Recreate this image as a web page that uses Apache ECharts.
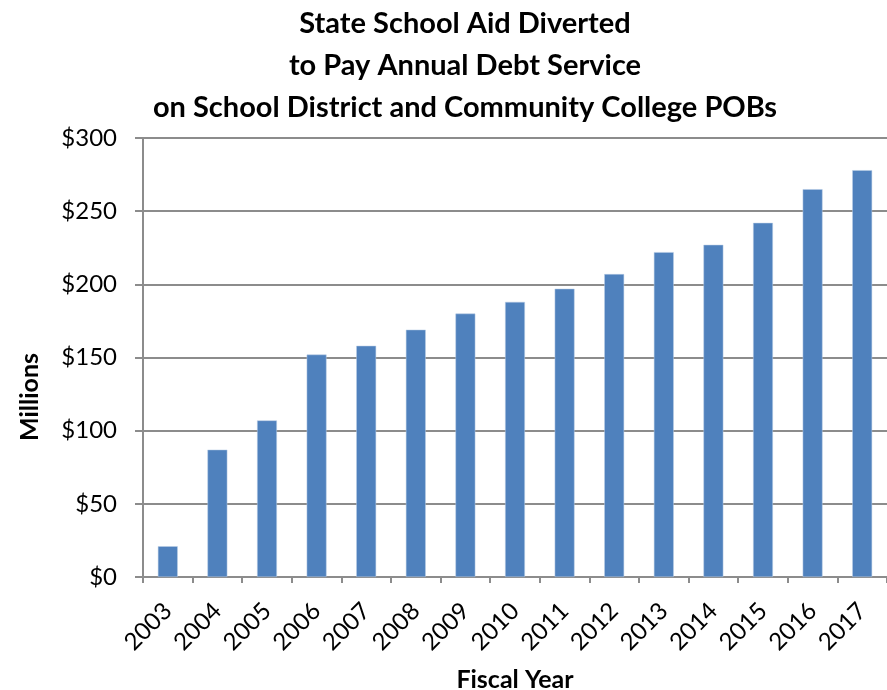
<!DOCTYPE html>
<html><head><meta charset="utf-8">
<script src="https://cdn.jsdelivr.net/npm/echarts@6/dist/echarts.min.js"></script>
<style>html,body{margin:0;padding:0;background:#fff}#c{width:887px;height:690px}</style>
</head><body><div id="c"></div>
<script>
const titleLines = ["State School Aid Diverted", "to Pay Annual Debt Service", "on School District and Community College POBs"];
const years = ["2003","2004","2005","2006","2007","2008","2009","2010","2011","2012","2013","2014","2015","2016","2017"];
const aidMillions = [21, 87, 107, 152, 158, 169, 180, 188, 197, 207, 222, 227, 242, 265, 278];
const yTicks = [0, 50, 100, 150, 200, 250, 300];
const xAxisTitle = "Fiscal Year";
const yAxisTitle = "Millions";

const FONT = "Lato, 'Open Sans', sans-serif";
const chart = echarts.init(document.getElementById('c'), null, {renderer: 'canvas'});
chart.setOption({
  animation: false,
  title: {
    text: titleLines.join('\n'),
    left: 460, top: -2, textAlign: 'center',
    textStyle: {fontFamily: FONT, fontWeight: 'bold', fontSize: 29, lineHeight: 42, color: '#000'}
  },
  graphic: [{
    type: 'text', x: 30, y: 397, rotation: Math.PI / 2,
    style: {text: yAxisTitle, fontFamily: FONT, fontWeight: 'bold', fontSize: 25, fill: '#000',
      align: 'center', verticalAlign: 'middle'}
  }],
  grid: {left: 143, right: 0, top: 138, bottom: 113, containLabel: false, outerBoundsMode: 'none'},
  xAxis: {
    type: 'category', data: years,
    name: xAxisTitle, nameLocation: 'middle', nameGap: 90,
    nameTextStyle: {fontFamily: FONT, fontWeight: 'bold', fontSize: 25, color: '#000'},
    axisLine: {lineStyle: {color: '#8c8c8c', width: 2}},
    axisTick: {show: true, alignWithLabel: false, length: 6, lineStyle: {color: '#8c8c8c', width: 2}},
    axisLabel: {rotate: 45, fontFamily: FONT, fontSize: 24, color: '#000', margin: 30, interval: 0}
  },
  yAxis: {
    type: 'value', min: 0, max: 300, interval: 50,
    axisLine: {show: true, lineStyle: {color: '#8c8c8c', width: 2}},
    axisTick: {show: true, length: 8, lineStyle: {color: '#8c8c8c', width: 2}},
    splitLine: {lineStyle: {color: '#8c8c8c', width: 2}},
    axisLabel: {fontFamily: FONT, fontSize: 24, color: '#000', margin: 26,
      formatter: v => yTicks.includes(v) ? '$' + v : ''}
  },
  series: [{
    type: 'bar', data: aidMillions, barWidth: '40%',
    itemStyle: {color: '#4F81BD', borderColor: '#b9cde5', borderWidth: 0.5}
  }]
});
</script></body></html>
